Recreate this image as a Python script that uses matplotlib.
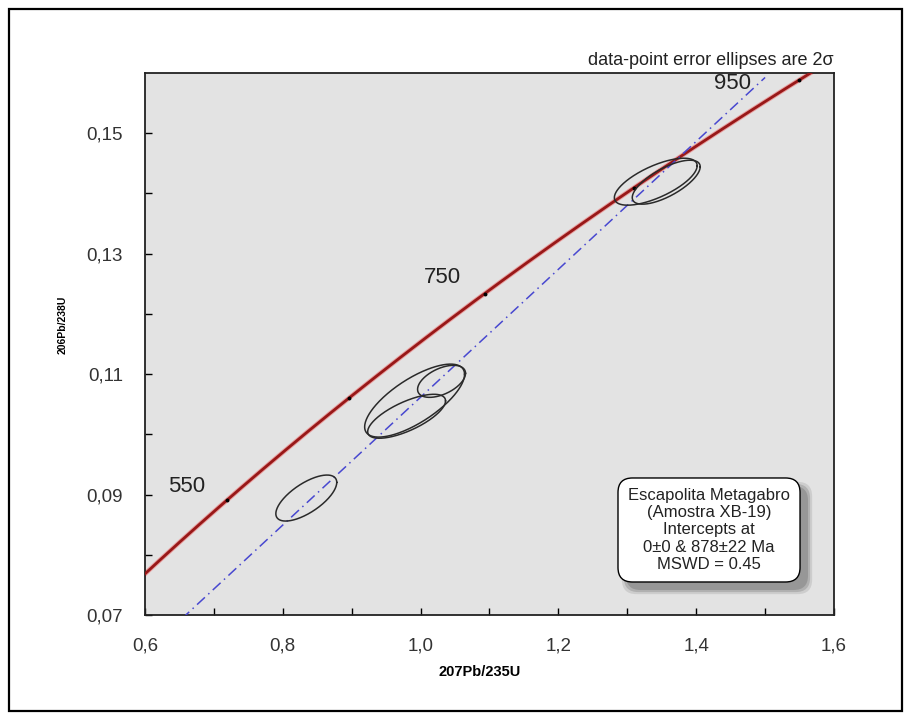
import numpy as np
import matplotlib
matplotlib.use("Agg")
import matplotlib.pyplot as plt
from matplotlib.patches import FancyBboxPatch, Rectangle

plt.rcParams['font.family'] = ['Liberation Sans', 'DejaVu Sans']

# U-Pb decay constants (1/yr)
LAMBDA_238 = 1.55125e-10
LAMBDA_235 = 9.8485e-10

# Concordia age marks (Ma) and which of them carry labels
age_marks = [550, 650, 750, 850, 950]
age_labels = ["550", "750", "950"]
label_pos_x = [0.661, 1.032, 1.452]
label_pos_y = [0.0914, 0.1261, 0.1582]

# Discordia intercepts (Ma)
lower_intercept = 0.0
upper_intercept = 878.0

# Data-point error ellipses (2 sigma): centre, half-extent in x and y, correlation
ell_x = [0.8341, 0.9913, 0.9797, 1.0304, 1.3413, 1.3565]
ell_y = [0.08942, 0.1056, 0.1030, 0.1088, 0.14195, 0.14187]
ell_ax = [0.0442, 0.0725, 0.0565, 0.0348, 0.0601, 0.0493]
ell_ay = [0.00382, 0.00606, 0.00365, 0.00266, 0.0039, 0.00365]
ell_rho = [0.68, 0.72, 0.70, 0.50, 0.68, 0.70]

x_major = [0.6, 0.8, 1.0, 1.2, 1.4, 1.6]
x_labels = ["0,6", "0,8", "1,0", "1,2", "1,4", "1,6"]
y_major = [0.07, 0.09, 0.11, 0.13, 0.15]
y_labels = ["0,07", "0,09", "0,11", "0,13", "0,15"]

box_text = ("Escapolita Metagabro\n(Amostra XB-19)\nIntercepts at\n"
            "0\u00b10 & 878\u00b122 Ma\nMSWD = 0.45")


def concordia(age_ma):
    t = np.asarray(age_ma, dtype=float) * 1e6
    return np.exp(LAMBDA_235 * t) - 1.0, np.exp(LAMBDA_238 * t) - 1.0


fig = plt.figure(figsize=(9.11, 7.2), dpi=100)
fig.patch.set_facecolor("white")

# outer frame around the whole figure
fig.add_artist(Rectangle((9 / 911, 9 / 720), 1 - 18 / 911, 1 - 18 / 720,
                         transform=fig.transFigure, fill=False,
                         edgecolor="black", linewidth=1.6))

AX_W, AX_H = 689, 542
ax = fig.add_axes([145 / 911, 1 - 615 / 720, AX_W / 911, AX_H / 720])
ax.set_facecolor("#e3e3e3")
ax.set_xlim(0.6, 1.6)
ax.set_ylim(0.07, 0.16)

# concordia curve
ages = np.linspace(300, 1100, 400)
cx, cy = concordia(ages)
ax.plot(cx, cy, color="#e8a0a0", lw=3.4, solid_capstyle="butt", zorder=2)
ax.plot(cx, cy, color="#981818", lw=2.0, zorder=3)

mx, my = concordia(age_marks)
ax.plot(mx, my, linestyle="none", marker="o", ms=1.8, color="black", zorder=4)

for txt, lx, ly in zip(age_labels, label_pos_x, label_pos_y):
    ax.text(lx, ly, txt, fontsize=16, ha="center", va="center",
            color="#222222", zorder=5)

# discordia line through the two intercepts
lx0, ly0 = concordia(lower_intercept)
ux, uy = concordia(upper_intercept)
dx = np.array([float(lx0), 1.5])
dy = float(ly0) + (float(uy) - float(ly0)) / (float(ux) - float(lx0)) * (dx - float(lx0))
ax.plot(dx, dy, color="#4848d0", lw=1.1, linestyle=(0, (7, 3, 1, 3)), zorder=3)

# error ellipses
t = np.linspace(0, 2 * np.pi, 300)
for x0, y0, a, b, r in zip(ell_x, ell_y, ell_ax, ell_ay, ell_rho):
    ex = x0 + a * np.cos(t)
    ey = y0 + b * (r * np.cos(t) + np.sqrt(1 - r * r) * np.sin(t))
    ax.plot(ex, ey, color="#2a2a2a", lw=1.1, zorder=4)

# ticks and labels
ax.set_xticks(x_major)
ax.set_xticklabels(x_labels)
ax.set_xticks(np.arange(0.7, 1.6, 0.2), minor=True)
ax.set_yticks(y_major)
ax.set_yticklabels(y_labels)
ax.set_yticks(np.arange(0.08, 0.16, 0.02), minor=True)
ax.tick_params(axis="both", which="both", direction="in", length=5, width=1,
               labelsize=13.5, colors="black", labelcolor="#333333")
ax.tick_params(axis="x", which="major", pad=16)
ax.tick_params(axis="y", which="major", pad=16)
for s in ax.spines.values():
    s.set_linewidth(1.3)
    s.set_color("#222222")

ax.set_xlabel("207Pb/235U", fontsize=10.5, fontweight="bold")
ax.xaxis.set_label_coords(0.485, -0.092)
ax.set_ylabel("206Pb/238U", fontsize=7.5, fontweight="bold")
ax.yaxis.set_label_coords(-0.113, 0.535)

ax.text(1.0, 1.007, "data-point error ellipses are 2\u03c3", transform=ax.transAxes,
        ha="right", va="bottom", fontsize=13, color="#222222")

# result box with a soft drop shadow (axes coordinates)
bx0, by0, bw, bh = 0.6865, 0.0609, 0.2642, 0.1919
aspect = AX_W / AX_H
rstyle = "round,pad=0,rounding_size=0.021"
for grow, alpha in [(0.006, 0.25), (0.003, 0.45), (0.0, 0.75)]:
    ax.add_patch(FancyBboxPatch((bx0 + 0.0116 - grow, by0 - 0.0148 - grow * aspect),
                                bw + 2 * grow, bh + 2 * grow * aspect,
                                boxstyle=rstyle, mutation_aspect=aspect,
                                transform=ax.transAxes, facecolor="#8f8f8f",
                                edgecolor="none", alpha=alpha, zorder=5))
ax.add_patch(FancyBboxPatch((bx0, by0), bw, bh, boxstyle=rstyle,
                            mutation_aspect=aspect, transform=ax.transAxes,
                            facecolor="white", edgecolor="black", lw=1.0, zorder=6))
ax.text(bx0 + bw / 2, by0 + bh / 2, box_text, transform=ax.transAxes,
        ha="center", va="center", fontsize=12, linespacing=1.2,
        color="#222222", zorder=7)

fig.savefig("out.png", dpi=100)
